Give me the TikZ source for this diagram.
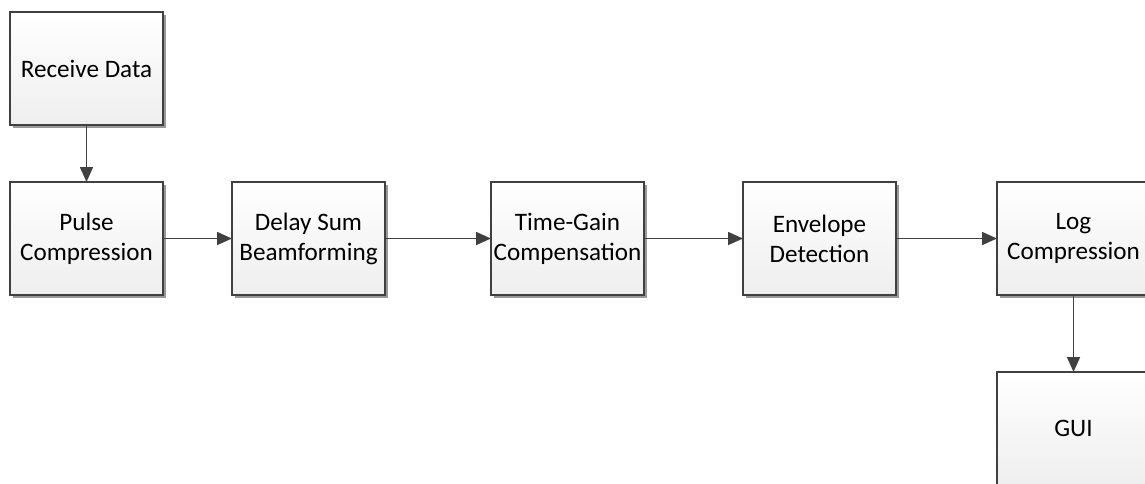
\documentclass[tikz,border=0pt]{standalone}
\usepackage{fontspec}
\setmainfont{Carlito}
\usetikzlibrary{arrows.meta, positioning, shadows}
\definecolor{boxline}{RGB}{64, 64, 64}
\definecolor{boxfill}{RGB}{238, 238, 238}

\begin{document}
\begin{tikzpicture}[node distance=1.38cm, every node/.style={font=\fontsize{14.3}{17}\selectfont, align=center},
  block/.style={draw=boxline, line width=0.9pt, outer sep=0pt, inner xsep=0.5pt, minimum width=3.06cm, minimum height=2.26cm, top color=white, bottom color=boxfill, drop shadow={shadow xshift=0.05cm, shadow yshift=-0.05cm, fill=gray!80, opacity=1}},
  link/.style={-{Triangle[length=0.3cm, width=0.26cm]}, line width=0.9pt, boxline}]
\useasboundingbox (0,0) rectangle (22.9,-9.66);
\node[block] (rx) at (1.73,-1.37) {Receive Data};
\node[block, below=1.14cm of rx] (pulse) {Pulse\\Compression};
\node[block, right=1.38cm of pulse] (das) {Delay Sum\\Beamforming};
\node[block, right=2.12cm of das] (tgc) {Time-Gain\\Compensation};
\node[block, right=1.98cm of tgc] (env) {Envelope\\Detection};
\node[block, right=2.02cm of env] (logc) {Log\\Compression};
\node[block, below=1.54cm of logc] (gui) {GUI};
\draw[link] (rx) -- (pulse);
\draw[link] (pulse) -- (das);
\draw[link] (das) -- (tgc);
\draw[link] (tgc) -- (env);
\draw[link] (env) -- (logc);
\draw[link] (logc) -- (gui);
\end{tikzpicture}
\end{document}
